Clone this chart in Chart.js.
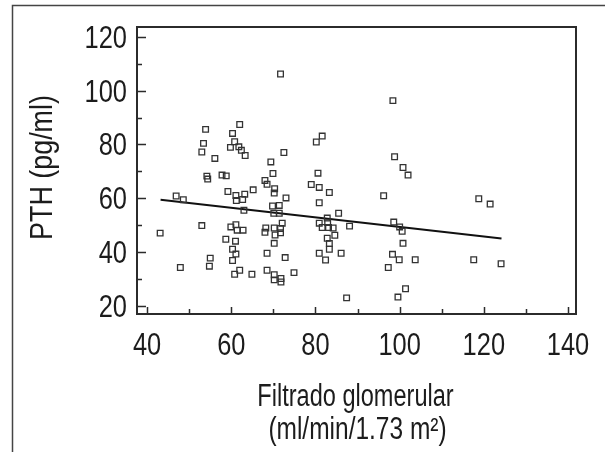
<!DOCTYPE html>
<html>
<head>
<meta charset="utf-8">
<script src="https://cdn.jsdelivr.net/npm/chart.js@4.4.0/dist/chart.umd.min.js"></script>
<style>
  html, body { margin: 0; padding: 0; background: #fff; }
  #wrap { width: 605px; height: 452px; }
</style>
</head>
<body>
<div id="wrap"><canvas id="chart" width="605" height="452"></canvas></div>
<script>
// filtrado glomerular (x) and PTH (y)
var filtrado = [53.9, 62.0, 60.3, 53.4, 60.8, 53.0, 59.8, 61.8, 62.4, 63.3,
  56.1, 69.4, 54.2, 54.4, 57.8, 58.8, 68.0, 68.5, 59.2, 61.1,
  63.2, 65.2, 62.7, 61.2, 46.9, 48.6, 63.0, 53.0, 43.1, 59.9,
  61.1, 61.4, 62.8, 68.2, 68.0, 58.7, 61.0, 60.3, 61.1, 60.3,
  55.0, 54.8, 47.9, 62.0, 60.8, 64.9, 68.5, 68.5, 80.2, 81.6,
  72.5, 69.9, 70.3, 70.2, 73.0, 69.8, 71.4, 80.6, 79.0, 80.9,
  83.3, 80.9, 96.2, 70.1, 71.4, 72.1, 70.2, 71.7, 71.7, 70.4,
  70.2, 72.8, 70.2, 70.2, 71.8, 71.8, 74.9, 85.5, 80.9, 82.8,
  82.9, 81.6, 83.1, 84.2, 88.1, 84.6, 82.8, 83.3, 83.3, 80.9,
  82.4, 86.1, 87.4, 97.3, 98.4, 98.8, 100.8, 102.0, 71.7, 118.8,
  121.5, 98.6, 100.0, 100.6, 100.8, 98.3, 99.9, 103.7, 117.6, 124.1,
  101.4, 99.6];
var pth = [85.6, 87.4, 84.1, 80.4, 81.0, 77.2, 78.9, 79.1, 77.8, 75.9,
  74.8, 73.5, 68.2, 67.1, 68.6, 68.3, 66.6, 65.2, 62.5, 61.0,
  61.5, 63.1, 59.5, 59.1, 60.8, 59.4, 55.5, 49.8, 47.0, 49.3,
  50.1, 48.1, 48.1, 48.9, 47.3, 44.7, 44.0, 41.0, 39.2, 36.8,
  37.7, 34.7, 34.2, 33.2, 31.7, 31.7, 39.5, 33.2, 80.9, 83.1,
  77.0, 69.2, 63.5, 61.9, 60.1, 57.1, 57.3, 69.3, 65.1, 64.0,
  62.1, 58.3, 60.9, 54.4, 54.4, 50.7, 48.9, 48.7, 47.1, 46.3,
  43.2, 37.9, 31.5, 29.6, 30.1, 28.8, 32.3, 54.4, 50.7, 52.6,
  50.9, 49.1, 49.1, 48.9, 49.6, 46.2, 45.1, 43.1, 41.0, 39.5,
  37.0, 39.5, 22.9, 34.2, 96.3, 75.4, 71.4, 68.6, 106.2, 59.8,
  57.8, 51.1, 49.3, 47.7, 43.2, 39.1, 37.1, 37.1, 37.1, 35.6,
  26.3, 23.2];
// regression line end points
var lineX = [43.2, 124.2];
var lineY = [59.4, 45.0];
var xTicks = [40, 50, 60, 70, 80, 90, 100, 110, 120, 130, 140];
var yTicks = [20, 30, 40, 50, 60, 70, 80, 90, 100, 110, 120];
var xTitle = ['Filtrado glomerular', '(ml/min/1.73 m\u00b2)'];
var yTitle = 'PTH (pg/ml)';

var ink = '#2b2b2b';
var textInk = '#1c1c1c';

var points = filtrado.map(function (x, i) { return { x: x, y: pth[i] }; });
var trend = lineX.map(function (x, i) { return { x: x, y: lineY[i] }; });

// condensed text: the original uses a narrow face, squeeze Liberation Sans
function narrowText(ctx, str, x, y, size, squeeze, align, rot) {
  ctx.save();
  ctx.translate(x, y);
  if (rot) ctx.rotate(rot);
  ctx.scale(squeeze, 1);
  ctx.font = size + 'px "Liberation Sans", Arial, sans-serif';
  ctx.fillStyle = textInk;
  ctx.textAlign = align;
  ctx.textBaseline = 'alphabetic';
  ctx.fillText(str, 0, 0);
  ctx.restore();
}

// frame, inner tick marks, labels and the outer box
var framePlugin = {
  id: 'frame',
  afterDraw: function (chart) {
    var ctx = chart.ctx, a = chart.chartArea;
    var sx = chart.scales.x, sy = chart.scales.y;
    ctx.save();
    ctx.strokeStyle = '#444';
    ctx.lineWidth = 1.5;
    ctx.beginPath();
    ctx.moveTo(12.5, 452);
    ctx.lineTo(12.5, 5.5);
    ctx.lineTo(605, 5.5);
    ctx.stroke();

    ctx.strokeStyle = ink;
    ctx.lineWidth = 1.5;
    ctx.beginPath();
    xTicks.forEach(function (v) {
      var px = Math.round(sx.getPixelForValue(v)) + 0.5;
      var len = v % 20 === 0 ? 7 : 5;
      ctx.moveTo(px, a.bottom);
      ctx.lineTo(px, a.bottom - len);
    });
    yTicks.forEach(function (v) {
      var py = Math.round(sy.getPixelForValue(v)) + 0.5;
      var len = v % 20 === 0 ? 9 : 5;
      ctx.moveTo(a.left, py);
      ctx.lineTo(a.left + len, py);
    });
    ctx.stroke();

    ctx.lineWidth = 2;
    ctx.strokeRect(a.left, a.top, a.right - a.left, a.bottom - a.top);
    ctx.restore();

    xTicks.forEach(function (v) {
      if (v % 20 !== 0) return;
      narrowText(ctx, String(v), sx.getPixelForValue(v), a.bottom + 41, 31, 0.82, 'center');
    });
    yTicks.forEach(function (v) {
      if (v % 20 !== 0) return;
      narrowText(ctx, String(v), a.left - 10, sy.getPixelForValue(v) + 11, 31, 0.82, 'right');
    });
    var cx = (a.left + a.right) / 2;
    narrowText(ctx, xTitle[0], cx - 1, 406, 31, 0.76, 'center');
    narrowText(ctx, xTitle[1], cx + 1, 439, 31, 0.79, 'center');
    narrowText(ctx, yTitle, 51.5, (a.top + a.bottom) / 2 - 3, 32, 0.84, 'center', -Math.PI / 2);
  }
};

new Chart(document.getElementById('chart'), {
  type: 'scatter',
  data: {
    datasets: [
      {
        data: points,
        pointStyle: 'rect',
        pointRadius: 4,
        pointBorderWidth: 1.3,
        pointBorderColor: '#333',
        pointBackgroundColor: 'rgba(0,0,0,0)',
        showLine: false
      },
      {
        type: 'line',
        data: trend,
        borderColor: '#111',
        borderWidth: 2,
        pointRadius: 0,
        fill: false
      }
    ]
  },
  options: {
    responsive: false,
    devicePixelRatio: 1,
    animation: false,
    events: [],
    layout: { padding: { top: 27, right: 29, left: 0, bottom: 0 } },
    plugins: { legend: { display: false }, tooltip: { enabled: false } },
    scales: {
      x: {
        type: 'linear',
        min: 37.6,
        max: 141.9,
        afterBuildTicks: function (s) { s.ticks = xTicks.map(function (v) { return { value: v }; }); },
        afterFit: function (s) { s.height = 138; },
        grid: { display: false, drawTicks: false },
        border: { display: false },
        ticks: { display: false }
      },
      y: {
        type: 'linear',
        min: 16.9,
        max: 123.7,
        afterBuildTicks: function (s) { s.ticks = yTicks.map(function (v) { return { value: v }; }); },
        afterFit: function (s) { s.width = 137; },
        grid: { display: false, drawTicks: false },
        border: { display: false },
        ticks: { display: false }
      }
    }
  },
  plugins: [framePlugin]
});
</script>
</body>
</html>
